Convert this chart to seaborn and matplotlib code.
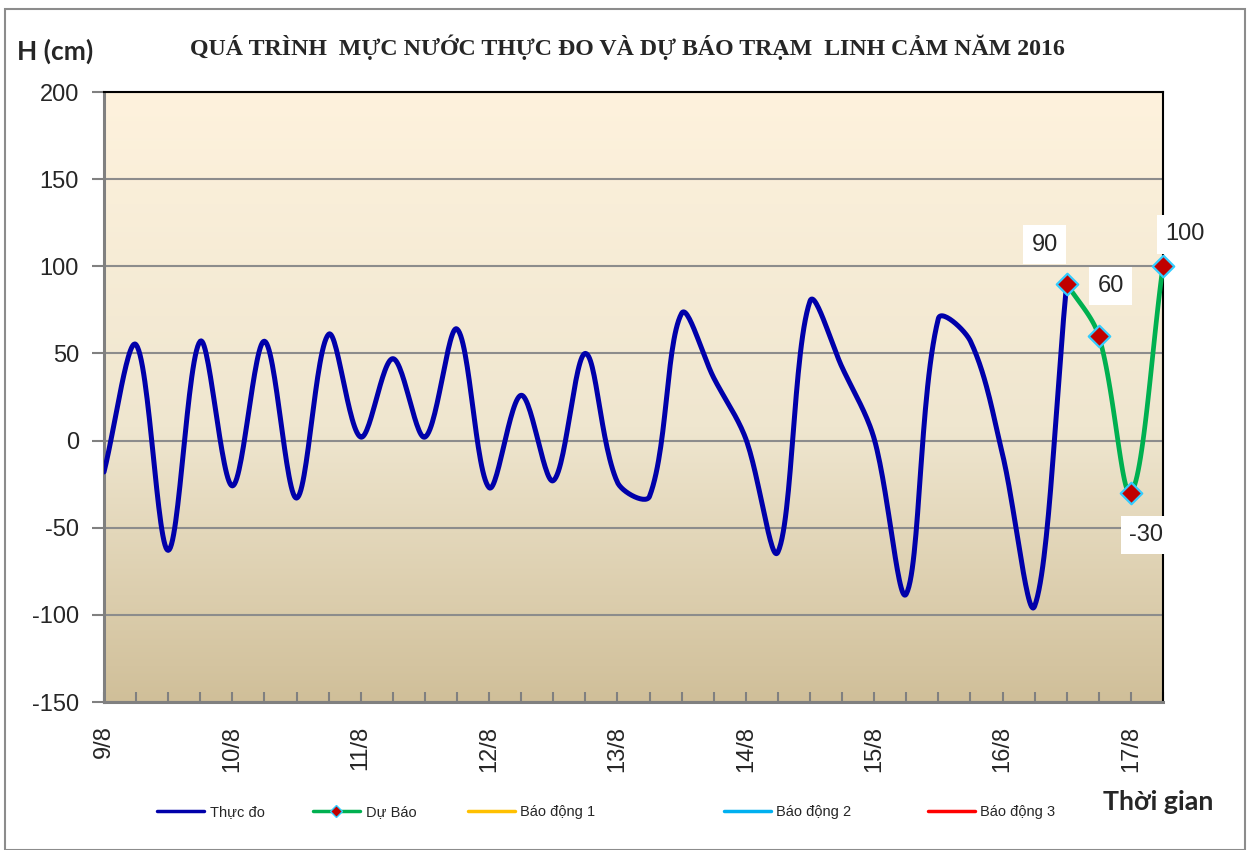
import numpy as np
import matplotlib
matplotlib.use("Agg")
import matplotlib.pyplot as plt
import seaborn as sns
from matplotlib.lines import Line2D
from matplotlib.colors import LinearSegmentedColormap
from matplotlib.patches import Rectangle

# data: 4 readings per day (every 6 h), 9/8 -> 17/8
day_labels = ['9/8', '10/8', '11/8', '12/8', '13/8', '14/8', '15/8', '16/8', '17/8']
steps_per_day = 4
observed = [-18, 55, -63, 57, -26, 57, -33, 61, 2, 47, 2, 64, -27, 26, -23, 50,
            -24, -32, 73, 36, 1, -64, 80, 42, 1, -88, 70, 57, -8, -95, 90]
forecast = [90, 60, -30, 100]
forecast_start = len(observed) - 1
legend_names = ['Thực đo', 'Dự Báo', 'Báo động 1', 'Báo động 2', 'Báo động 3']

sns.set_style("white")
plt.rcParams['font.family'] = ['Liberation Sans', 'DejaVu Sans']
plt.rcParams['axes.unicode_minus'] = False

W, H = 1253, 850
fig = plt.figure(figsize=(W / 100, H / 100), dpi=100)
ax = fig.add_axes([104 / W, 1 - 702 / H, (1163 - 104) / W, (702 - 92) / H])

# rough pixel size of one x step and one y unit, used so the smoothing
# behaves like excel's (which works in screen space)
PX_X, PX_Y = 32.1, 1.743


def smooth(xv, yv, n=30):
    # bezier smoothing, control arms weighted by neighbouring segment lengths
    p = np.column_stack([np.asarray(xv, float) * PX_X, np.asarray(yv, float) * PX_Y])
    m = len(p)
    arms_in = np.zeros_like(p)
    arms_out = np.zeros_like(p)
    for i in range(m):
        a = p[max(i - 1, 0)]
        b = p[min(i + 1, m - 1)]
        t = b - a
        d0 = np.hypot(*(p[i] - a))
        d1 = np.hypot(*(b - p[i]))
        if d0 + d1 == 0:
            continue
        arms_in[i] = -t * d0 / (d0 + d1) / 3
        arms_out[i] = t * d1 / (d0 + d1) / 3
    out = []
    tt = np.linspace(0, 1, n)[:, None]
    for i in range(m - 1):
        p1, p2 = p[i], p[i + 1]
        b1 = p1 + arms_out[i]
        b2 = p2 + arms_in[i + 1]
        seg = (1 - tt) ** 3 * p1 + 3 * (1 - tt) ** 2 * tt * b1 + 3 * (1 - tt) * tt ** 2 * b2 + tt ** 3 * p2
        out.append(seg if i == 0 else seg[1:])
    out = np.vstack(out)
    return out[:, 0] / PX_X, out[:, 1] / PX_Y


# background gradient
cmap = LinearSegmentedColormap.from_list('bg', [(0, '#D0BF99'), (0.45, '#EFE6CF'), (1, '#FEF2DD')])
ax.imshow(np.linspace(0, 1, 256)[:, None], extent=[0, 1, 0, 1], transform=ax.transAxes,
          cmap=cmap, origin='lower', aspect='auto', zorder=-2)

x_obs = np.arange(len(observed))
x_fc = np.arange(forecast_start, forecast_start + len(forecast))

sx, sy = smooth(x_obs, observed)
sns.lineplot(x=sx, y=sy, sort=False, estimator=None, color='#0000AA', lw=3.6, ax=ax, zorder=3)
fx, fy = smooth(x_fc, forecast)
sns.lineplot(x=fx, y=fy, sort=False, estimator=None, color='#00B050', lw=3.4, ax=ax, zorder=3,
             clip_on=False)
sns.scatterplot(x=x_fc, y=forecast, marker='D', s=120, color='#C00000', edgecolor='#33CCFF',
                linewidth=1.6, ax=ax, zorder=4, clip_on=False)

# data labels on forecast points
offsets = [(-22, 39), (12, 50), (15, -42), (22, 32)]
for xv, yv, off in zip(x_fc, forecast, offsets):
    ax.annotate(str(yv), (xv, yv), xytext=off, textcoords='offset pixels', ha='center', va='center',
                fontsize=17, bbox=dict(boxstyle='square,pad=0.35', fc='white', ec='none'), zorder=5)

n_pos = len(observed) + len(forecast) - 1
ax.set_xlim(0, n_pos - 1)
ax.set_ylim(-150, 200)
ax.set_yticks(np.arange(-150, 201, 50))
ax.set_xticks(np.arange(n_pos))
xlabels = [''] * n_pos
for k, lab in enumerate(day_labels):
    xlabels[k * steps_per_day] = lab
ax.set_xticklabels(xlabels, rotation=90)
ax.set_xlabel('')
ax.set_ylabel('')

ax.yaxis.grid(True, color='#8C8C8C', lw=1.5)
ax.xaxis.grid(False)
ax.set_axisbelow(True)
ax.tick_params(axis='y', direction='out', length=9, width=1.5, color='#808080', labelsize=17, pad=9,
               left=True)
ax.tick_params(axis='x', direction='in', length=7, width=1.5, color='#808080', labelsize=17, pad=17,
               bottom=True)
for side in ['left', 'bottom']:
    ax.spines[side].set_color('#808080')
    ax.spines[side].set_linewidth(2.2)
for side in ['top', 'right']:
    ax.spines[side].set_color('black')
    ax.spines[side].set_linewidth(1.5)
    ax.spines[side].set_visible(True)

# texts
fig.text(627 / W, 1 - 55 / H, 'QUÁ TRÌNH  MỰC NƯỚC THỰC ĐO VÀ DỰ BÁO TRẠM  LINH CẢM NĂM 2016',
         ha='center', va='baseline', fontsize=17.2, fontweight='bold',
         family=['Liberation Serif', 'DejaVu Serif'])
fig.text(17 / W, 1 - 60 / H, 'H (cm)', ha='left', va='baseline', fontsize=19, fontweight='bold',
         family=['Lato', 'DejaVu Sans'])
fig.text(1103 / W, 1 - 810 / H, 'Thời gian', ha='left', va='baseline', fontsize=19.3, fontweight='bold',
         family=['Lato', 'DejaVu Sans'])

# legend, one entry each, placed like the original
handles = [
    Line2D([], [], color='#0000AA', lw=2.5),
    Line2D([], [], color='#00B050', lw=2.5, marker='D', markersize=6, markerfacecolor='#C00000',
           markeredgecolor='#33CCFF'),
    Line2D([], [], color='#FFC000', lw=2.5),
    Line2D([], [], color='#00B0F0', lw=2.5),
    Line2D([], [], color='#FF0000', lw=2.5),
]
legend_x = [157, 313, 468, 724, 928]
for h, name, lx in zip(handles, legend_names, legend_x):
    fig.legend([h], [name], loc='center left', bbox_to_anchor=(lx / W, 1 - 812 / H), frameon=False,
               fontsize=10.5, handlelength=3.2, handletextpad=0.4, borderpad=0, borderaxespad=0)

# outer chart border
fig.patches.append(Rectangle((5 / W, 0), 1240 / W, 1 - 9 / H, transform=fig.transFigure,
                             fill=False, ec='#8C8C8C', lw=1.5))

fig.savefig('out.png', dpi=100)
